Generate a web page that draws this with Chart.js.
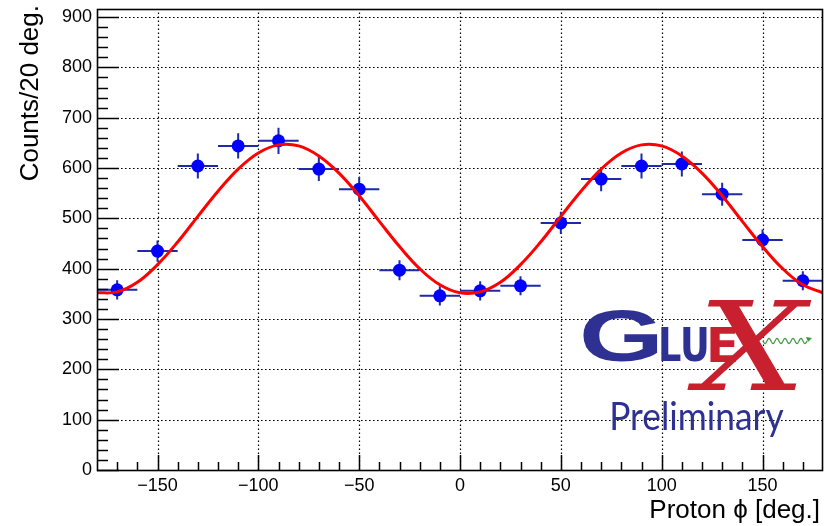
<!DOCTYPE html>
<html><head><meta charset="utf-8">
<script src="https://cdn.jsdelivr.net/npm/chart.js@4"></script>
<style>html,body{margin:0;padding:0;background:#fff}canvas{display:block}</style>
</head><body>
<canvas id="c" width="824" height="526"></canvas>
<script>
// ---- data ----
const binCenters  = [-170,-150,-130,-110,-90,-70,-50,-30,-10,10,30,50,70,90,110,130,150,170];
const counts      = [358,435,604,644,654,598,558,397,346,356,366,491,578,604,608,548,457,376];
const countErrors = [19,21,25,25,26,24,24,20,19,19,19,22,24,25,25,23,21,19];
const binHalfWidth = 10;
const fitPhi    = [-180,-170,-160,-150,-140,-130,-120,-110,-100,-90,-80,-70,-60,-50,-40,-30,-20,-10,0,10,20,30,40,50,60,70,80,90,100,110,120,130,140,150,160,170,180];
const fitValues = [352,354,373,408,453,504,554,598,630,646,644,624,590,545,494,444,400,368,352,354,373,408,453,504,554,598,630,646,644,624,590,545,494,444,400,368,352];
const xTicks = [-150,-100,-50,0,50,100,150];
const yTicks = [0,100,200,300,400,500,600,700,800,900];
const xMin = -180, xMax = 180, yMin = 0, yMax = 916;
const xTitle = 'Proton \u03D5 [deg.]';
const yTitle = 'Counts/20 deg.';

const FONT = "'Liberation Sans', Arial, Helvetica, sans-serif";

function fitBox(ctx, text, font, color, x0, y0, x1, y1) {
  ctx.save();
  ctx.font = font;
  ctx.textAlign = 'left';
  ctx.textBaseline = 'alphabetic';
  const m = ctx.measureText(text);
  const w = m.actualBoundingBoxLeft + m.actualBoundingBoxRight;
  const h = m.actualBoundingBoxAscent + m.actualBoundingBoxDescent;
  ctx.translate(x0, y0);
  ctx.scale((x1 - x0) / w, (y1 - y0) / h);
  ctx.fillStyle = color;
  ctx.fillText(text, m.actualBoundingBoxLeft, m.actualBoundingBoxAscent);
  ctx.restore();
}

const rootPlugin = {
  id: 'rootStyle',
  beforeDatasetsDraw(chart) {
    const {ctx, chartArea: a, scales: {x, y}} = chart;
    // dotted grid
    ctx.save();
    ctx.strokeStyle = '#000';
    ctx.lineWidth = 1.2;
    ctx.setLineDash([1.6, 2.4]);
    xTicks.forEach(v => {
      const px = Math.round(x.getPixelForValue(v)) + 0.5;
      ctx.beginPath(); ctx.moveTo(px, a.bottom); ctx.lineTo(px, a.top); ctx.stroke();
    });
    yTicks.forEach(v => {
      if (v === 0) return;
      const py = Math.round(y.getPixelForValue(v)) + 0.5;
      ctx.beginPath(); ctx.moveTo(a.left, py); ctx.lineTo(a.right, py); ctx.stroke();
    });
    ctx.restore();

    // GlueX logo
    const blue = '#2e3192', red = '#c9202f';
    fitBox(ctx, 'G', "bold 80px 'Liberation Sans'", blue, 583, 310, 658, 362);
    fitBox(ctx, 'LU', "bold 60px 'DejaVu Sans'", blue, 661, 327, 707, 362);
    fitBox(ctx, 'E', "bold 60px 'DejaVu Sans'", red, 710, 327, 736, 362);
    fitBox(ctx, 'X', "italic 120px 'DejaVu Serif'", red, 687, 300, 812, 390);
    // wavy photon line
    ctx.save();
    ctx.strokeStyle = '#3c9a3c';
    ctx.lineWidth = 1.2;
    ctx.beginPath();
    for (let i = 0; i <= 80; i++) {
      const t = i / 80;
      const px = 763 + t * 44;
      const py = 341 + 2.6 * Math.sin(t * Math.PI * 2 * 5.5);
      if (i === 0) ctx.moveTo(px, py); else ctx.lineTo(px, py);
    }
    ctx.stroke();
    ctx.beginPath();
    ctx.moveTo(812, 338); ctx.lineTo(806, 337); ctx.lineTo(808, 342); ctx.closePath();
    ctx.fillStyle = '#3c9a3c'; ctx.fill();
    ctx.restore();
    fitBox(ctx, 'Preliminary', "38px Lato", blue, 612, 401, 784, 437);

    // error bars
    ctx.save();
    ctx.strokeStyle = '#1f2aa6';
    ctx.lineWidth = 2;
    binCenters.forEach((c, i) => {
      const px = x.getPixelForValue(c);
      const py = y.getPixelForValue(counts[i]);
      const xl = x.getPixelForValue(c - binHalfWidth), xr = x.getPixelForValue(c + binHalfWidth);
      const yt = y.getPixelForValue(counts[i] + countErrors[i]), yb = y.getPixelForValue(counts[i] - countErrors[i]);
      ctx.beginPath();
      ctx.moveTo(xl, py); ctx.lineTo(xr, py);
      ctx.moveTo(px, yt); ctx.lineTo(px, yb);
      ctx.stroke();
    });
    ctx.restore();
  },
  afterDatasetsDraw(chart) {
    const {ctx, chartArea: a, scales: {x, y}} = chart;
    ctx.save();
    ctx.strokeStyle = '#000';
    ctx.lineWidth = 1.5;
    // y ticks (inside, on left)
    for (let v = yMin; v <= 900; v += 20) {
      const py = Math.round(y.getPixelForValue(v)) + 0.5;
      const len = (v % 100 === 0) ? 22 : 11;
      ctx.beginPath(); ctx.moveTo(a.left, py); ctx.lineTo(a.left + len, py); ctx.stroke();
    }
    // x ticks (inside, on bottom)
    for (let v = -170; v <= 170; v += 10) {
      const px = Math.round(x.getPixelForValue(v)) + 0.5;
      const len = (v % 50 === 0) ? 15 : 8;
      ctx.beginPath(); ctx.moveTo(px, a.bottom); ctx.lineTo(px, a.bottom - len); ctx.stroke();
    }
    // frame
    ctx.lineWidth = 1.6;
    ctx.strokeRect(a.left + 0.5, a.top + 0.5, a.right - a.left - 1, a.bottom - a.top);
    ctx.restore();

    // axis titles
    ctx.save();
    ctx.fillStyle = '#000';
    ctx.font = '26px ' + FONT;
    ctx.textAlign = 'right';
    ctx.textBaseline = 'alphabetic';
    ctx.fillText(xTitle, 820, 518);
    ctx.translate(38, 5);
    ctx.rotate(-Math.PI / 2);
    ctx.fillText(yTitle, 0, 0);
    ctx.restore();
  }
};

new Chart(document.getElementById('c').getContext('2d'), {
  type: 'scatter',
  data: {
    datasets: [
      {
        label: 'data',
        data: binCenters.map((c, i) => ({x: c, y: counts[i]})),
        pointRadius: 6.5,
        pointHoverRadius: 6.5,
        pointBackgroundColor: '#0000ff',
        pointBorderColor: '#0000ff',
        pointBorderWidth: 0,
        showLine: false,
        order: 1
      },
      {
        label: 'fit',
        type: 'line',
        data: fitPhi.map((p, i) => ({x: p, y: fitValues[i]})),
        borderColor: '#ff0000',
        borderWidth: 3,
        pointRadius: 0,
        tension: 0.4,
        fill: false,
        order: 0
      }
    ]
  },
  options: {
    responsive: false,
    animation: false,
    devicePixelRatio: 1,
    layout: {autoPadding: false, padding: {top: 9, right: 1, left: 0, bottom: 0}},
    plugins: {legend: {display: false}, tooltip: {enabled: false}},
    scales: {
      x: {
        type: 'linear', min: xMin, max: xMax,
        afterBuildTicks: s => { s.ticks = xTicks.map(v => ({value: v})); },
        afterFit: s => { s.height = 56; s.paddingLeft = 0; s.paddingRight = 0; s.paddingTop = 0; s.paddingBottom = 0; },
        grid: {display: false, drawTicks: false},
        border: {display: false},
        ticks: {
          font: {family: FONT, size: 18}, color: '#000', padding: 5,
          maxRotation: 0, autoSkip: false,
          callback: v => v < 0 ? '\u2212' + Math.abs(v) : String(v)
        }
      },
      y: {
        type: 'linear', min: yMin, max: yMax,
        afterBuildTicks: s => { s.ticks = yTicks.map(v => ({value: v})); },
        afterFit: s => { s.width = 97; s.paddingLeft = 0; s.paddingRight = 0; s.paddingTop = 0; s.paddingBottom = 0; },
        grid: {display: false, drawTicks: false},
        border: {display: false},
        ticks: {
          font: {family: FONT, size: 18}, color: '#000', padding: 5,
          autoSkip: false,
          callback: v => String(v)
        }
      }
    }
  },
  plugins: [rootPlugin]
});
</script>
</body></html>
